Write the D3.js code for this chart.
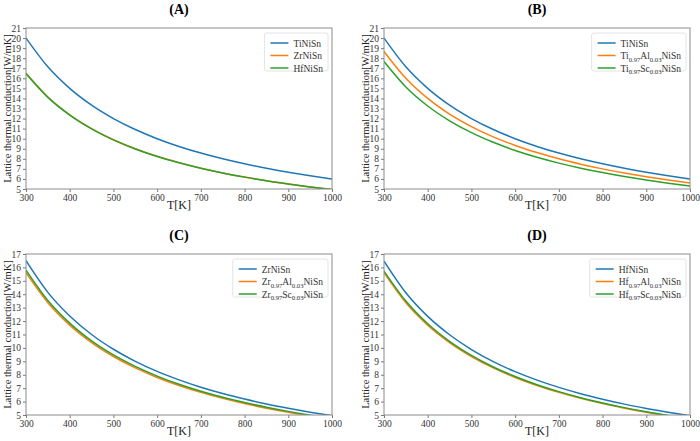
<!DOCTYPE html>
<html><head><meta charset="utf-8">
<script src="https://cdn.jsdelivr.net/npm/d3@7"></script>
<style>
body{margin:0;background:#fff;}
svg text{font-family:"Liberation Serif","DejaVu Serif",serif !important;}
</style></head>
<body><svg id="c" width="700" height="441"></svg>
<script>
const temps = [300,350,400,450,500,550,600,650,700,750,800,850,900,950,1000];
const tiNiSn   = [20.00,17.14,15.00,13.33,12.00,10.91,10.00,9.23,8.57,8.00,7.50,7.06,6.67,6.32,6.00];
const zrNiSn   = [16.50,14.14,12.38,11.00,9.90,9.00,8.25,7.62,7.07,6.60,6.19,5.82,5.50,5.21,4.95];
const hfNiSn   = [16.47,14.11,12.35,10.98,9.88,8.98,8.23,7.60,7.06,6.59,6.18,5.81,5.49,5.20,4.94];
const tiAlNiSn = [18.67,16.00,14.00,12.44,11.20,10.18,9.33,8.62,8.00,7.47,7.00,6.59,6.22,5.89,5.60];
const tiScNiSn = [17.67,15.14,13.25,11.78,10.60,9.64,8.83,8.15,7.57,7.07,6.63,6.24,5.89,5.58,5.30];
const zrAlNiSn = [15.60,13.37,11.70,10.40,9.36,8.51,7.80,7.20,6.69,6.24,5.85,5.51,5.20,4.93,4.68];
const zrScNiSn = [15.80,13.54,11.85,10.53,9.48,8.62,7.90,7.29,6.77,6.32,5.93,5.58,5.27,4.99,4.74];
const hfAlNiSn = [15.60,13.37,11.70,10.40,9.36,8.51,7.80,7.20,6.69,6.24,5.85,5.51,5.20,4.93,4.68];
const hfScNiSn = [15.73,13.49,11.80,10.49,9.44,8.58,7.87,7.26,6.74,6.29,5.90,5.55,5.24,4.97,4.72];
const xTicks = [300,400,500,600,700,800,900,1000];
const yTicksTop = [5,6,7,8,9,10,11,12,13,14,15,16,17,18,19,20,21];
const yTicksBottom = [5,6,7,8,9,10,11,12,13,14,15,16,17];
const panelTitles = ["(A)","(B)","(C)","(D)"];
const xLabel = "T[K]";
const yLabel = "Lattice thermal conduction[W/mK]";
const colors = ["#1f77b4","#ff7f0e","#2ca02c"];

const panels = [
  {title:panelTitles[0], box:[26,28,332,189], yMax:21, yTicks:yTicksTop,
   series:[["TiNiSn",tiNiSn],["ZrNiSn",zrNiSn],["HfNiSn",hfNiSn]]},
  {title:panelTitles[1], box:[384,28,690,189], yMax:21, yTicks:yTicksTop,
   series:[["TiNiSn",tiNiSn],["Ti_{0.97}Al_{0.03}NiSn",tiAlNiSn],["Ti_{0.97}Sc_{0.03}NiSn",tiScNiSn]]},
  {title:panelTitles[2], box:[26,254,332,415], yMax:17, yTicks:yTicksBottom,
   series:[["ZrNiSn",zrNiSn],["Zr_{0.97}Al_{0.03}NiSn",zrAlNiSn],["Zr_{0.97}Sc_{0.03}NiSn",zrScNiSn]]},
  {title:panelTitles[3], box:[384,254,690,415], yMax:17, yTicks:yTicksBottom,
   series:[["HfNiSn",hfNiSn],["Hf_{0.97}Al_{0.03}NiSn",hfAlNiSn],["Hf_{0.97}Sc_{0.03}NiSn",hfScNiSn]]}
];

const FONT = "Liberation Serif";
const svg = d3.select("#c");
const defs = svg.append("defs");

function addRich(textSel, label, size){
  const parts = label.split(/(_\{[^}]*\})/).filter(s=>s.length);
  let sub=false;
  parts.forEach(p=>{
    if(p.startsWith("_{")){
      textSel.append("tspan").attr("font-size",size*0.7).attr("dy",2.5).text(p.slice(2,-1));
      sub=true;
    } else {
      textSel.append("tspan").attr("font-size",size).attr("dy",sub?-2.5:0).text(p);
      sub=false;
    }
  });
}

panels.forEach((p,i)=>{
  const [x0,y0,x1,y1]=p.box;
  const x=d3.scaleLinear().domain([300,1000]).range([x0,x1]);
  const y=d3.scaleLinear().domain([5,p.yMax]).range([y1,y0]);
  const g=svg.append("g").attr("font-family",FONT);
  g.append("text").attr("x",(x0+x1)/2).attr("y",y0-14).attr("text-anchor","middle")
    .attr("font-weight","bold").attr("font-size",14).attr("fill","#000").text(p.title);
  const xa=g.append("g").attr("transform",`translate(0,${y1})`)
    .call(d3.axisBottom(x).tickValues(xTicks).tickSize(3).tickPadding(2).tickFormat(d3.format("d")));
  const ya=g.append("g").attr("transform",`translate(${x0},0)`)
    .call(d3.axisLeft(y).tickValues(p.yTicks).tickSize(3).tickPadding(2).tickFormat(d3.format("d")));
  [xa,ya].forEach(a=>{
    a.attr("font-family",FONT).attr("font-size",9.5);
    a.select(".domain").remove();
    a.selectAll("line").attr("stroke","#555").attr("stroke-width",0.8);
    a.selectAll("text").attr("fill","#333");
  });
  const cid="clip"+i;
  defs.append("clipPath").attr("id",cid).append("rect").attr("x",x0).attr("y",y0).attr("width",x1-x0).attr("height",y1-y0);
  const line=d3.line().x((d,k)=>x(temps[k])).y(d=>y(d)).curve(d3.curveMonotoneX);
  const lg=g.append("g").attr("clip-path",`url(#${cid})`);
  p.series.forEach((s,k)=>{
    lg.append("path").datum(s[1]).attr("d",line).attr("fill","none")
      .attr("stroke",colors[k]).attr("stroke-width",1.5);
  });
  g.append("rect").attr("x",x0).attr("y",y0).attr("width",x1-x0).attr("height",y1-y0)
    .attr("fill","none").attr("stroke","#8c8c8c").attr("stroke-width",1);
  g.append("text").attr("x",(x0+x1)/2).attr("y",y1+20).attr("text-anchor","middle")
    .attr("font-size",12).attr("fill","#222").text(xLabel);
  g.append("text").attr("transform",`translate(${x0-15},${(y0+y1)/2}) rotate(-90)`)
    .attr("text-anchor","middle").attr("font-size",10.5).attr("fill","#222").text(yLabel);
  const leg=g.append("g");
  const texts=[];
  p.series.forEach((s,k)=>{
    const t=leg.append("text").attr("x",0).attr("y",k*12.5).attr("fill","#333");
    addRich(t,s[0],9.5);
    texts.push(t);
  });
  const tw=d3.max(texts,t=>t.node().getComputedTextLength());
  const lw=6+18+5+tw+5;
  const lx=x1-4-lw, ly=y0+5;
  leg.insert("rect",":first-child").attr("x",0).attr("y",0).attr("width",lw).attr("height",38)
    .attr("rx",2).attr("fill","#fff").attr("stroke","#ddd").attr("stroke-width",0.8);
  texts.forEach((t,k)=>{
    t.attr("x",29).attr("y",10+k*12.5+3.5);
    t.selectAll("tspan").filter((d,j)=>j===0).attr("x",29);
    leg.append("line").attr("x1",6).attr("x2",24).attr("y1",10+k*12.5).attr("y2",10+k*12.5)
      .attr("stroke",colors[k]).attr("stroke-width",1.5);
  });
  leg.attr("transform",`translate(${lx},${ly})`);
});
</script></body></html>
